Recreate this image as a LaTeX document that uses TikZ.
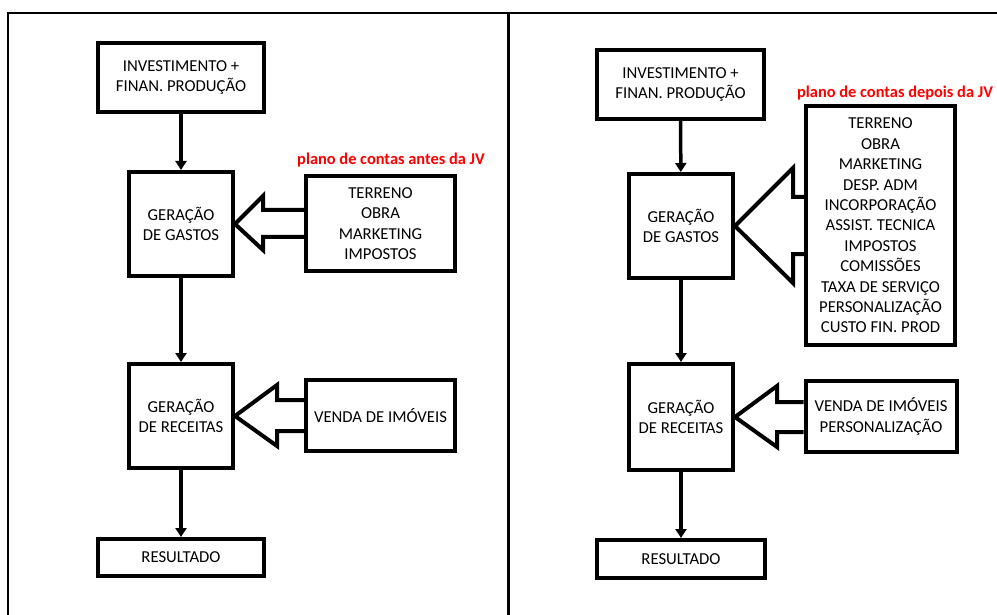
\documentclass[tikz,border=0pt]{standalone}
\usepackage{fontspec}
\setmainfont{Carlito}
\usetikzlibrary{arrows.meta,calc}

\begin{document}
\begin{tikzpicture}[x=1pt, y=-1pt, >={Triangle[width=11pt,length=9pt]},
  box/.style={draw, line width=4pt, align=center, inner sep=0pt,
    font=\fontsize{16.7}{20.4}\selectfont},
  flow/.style={->, line width=3.5pt},
  inflow/.style={line width=4pt, line join=miter},
  tag/.style={text=red, font=\bfseries\fontsize{16.4}{18}\selectfont}]
\useasboundingbox (0,0) rectangle (997,615);
% frame of the two columns
\draw[line width=2pt] (997,13) -- (8,13) -- (8,615);
\draw[line width=3pt] (508,13) -- (508,615);
% left column: before the JV
\node[box, minimum width=166, minimum height=69] (invA) at (181,77.5) {INVESTIMENTO +\\FINAN. PRODUÇÃO};
\node[box, minimum width=104, minimum height=104] (gastosA) at (181,224) {GERAÇÃO\\DE GASTOS};
\node[box, minimum width=149, minimum height=95] (contasA) at (380.5,223.5) {TERRENO\\OBRA\\MARKETING\\IMPOSTOS};
\node[box, minimum width=104, minimum height=104] (receitasA) at (181,416) {GERAÇÃO\\DE RECEITAS};
\node[box, minimum width=149, minimum height=71] (vendaA) at (380.5,415.5) {VENDA DE IMÓVEIS};
\node[box, minimum width=166, minimum height=37] (resA) at (181,557.5) {RESULTADO};
\node[tag] (tagA) at (391,160) {plano de contas antes da JV};
\draw[flow] (invA) -- (gastosA);
\draw[flow] (gastosA) -- (receitasA);
\draw[flow] (receitasA) -- (resA);
\draw[inflow] (contasA.west |- 0,210) -- (263,210) -- (263,196) -- (gastosA.east)
  -- (263,250) -- (263,237) -- (contasA.west |- 0,237);
\draw[inflow] (vendaA.west |- 0,400) -- (277,400) -- (277,385) -- (receitasA.east)
  -- (277,446) -- (277,431) -- (vendaA.west |- 0,431);
% right column: after the JV
\node[box, minimum width=167, minimum height=69] (invB) at (680.5,84.5) {INVESTIMENTO +\\FINAN. PRODUÇÃO};
\node[box, minimum width=104, minimum height=104] (gastosB) at (681,226) {GERAÇÃO\\DE GASTOS};
\node[box, minimum width=149, minimum height=239] (contasB) at (880.5,225.5) {TERRENO\\OBRA\\MARKETING\\DESP. ADM\\INCORPORAÇÃO\\ASSIST. TECNICA\\IMPOSTOS\\COMISSÕES\\TAXA DE SERVIÇO\\PERSONALIZAÇÃO\\CUSTO FIN. PROD};
\node[box, minimum width=104, minimum height=106] (receitasB) at (681,417) {GERAÇÃO\\DE RECEITAS};
\node[box, minimum width=151, minimum height=71] (vendaB) at (881,416.5) {VENDA DE IMÓVEIS\\PERSONALIZAÇÃO};
\node[box, minimum width=168, minimum height=38] (resB) at (681,559) {RESULTADO};
\node[tag] (tagB) at (895,93) {plano de contas depois da JV};
\draw[flow] (invB) -- (gastosB);
\draw[flow] (gastosB) -- (receitasB);
\draw[flow] (receitasB) -- (resB);
\draw[inflow] (contasB.west |- 0,197) -- (793,197) -- (793,168) -- (gastosB.east)
  -- (793,283) -- (793,254) -- (contasB.west |- 0,254);
\draw[inflow] (vendaB.west |- 0,402) -- (777,402) -- (777,386) -- (receitasB.east)
  -- (777,447) -- (777,432) -- (vendaB.west |- 0,432);
\end{tikzpicture}
\end{document}
